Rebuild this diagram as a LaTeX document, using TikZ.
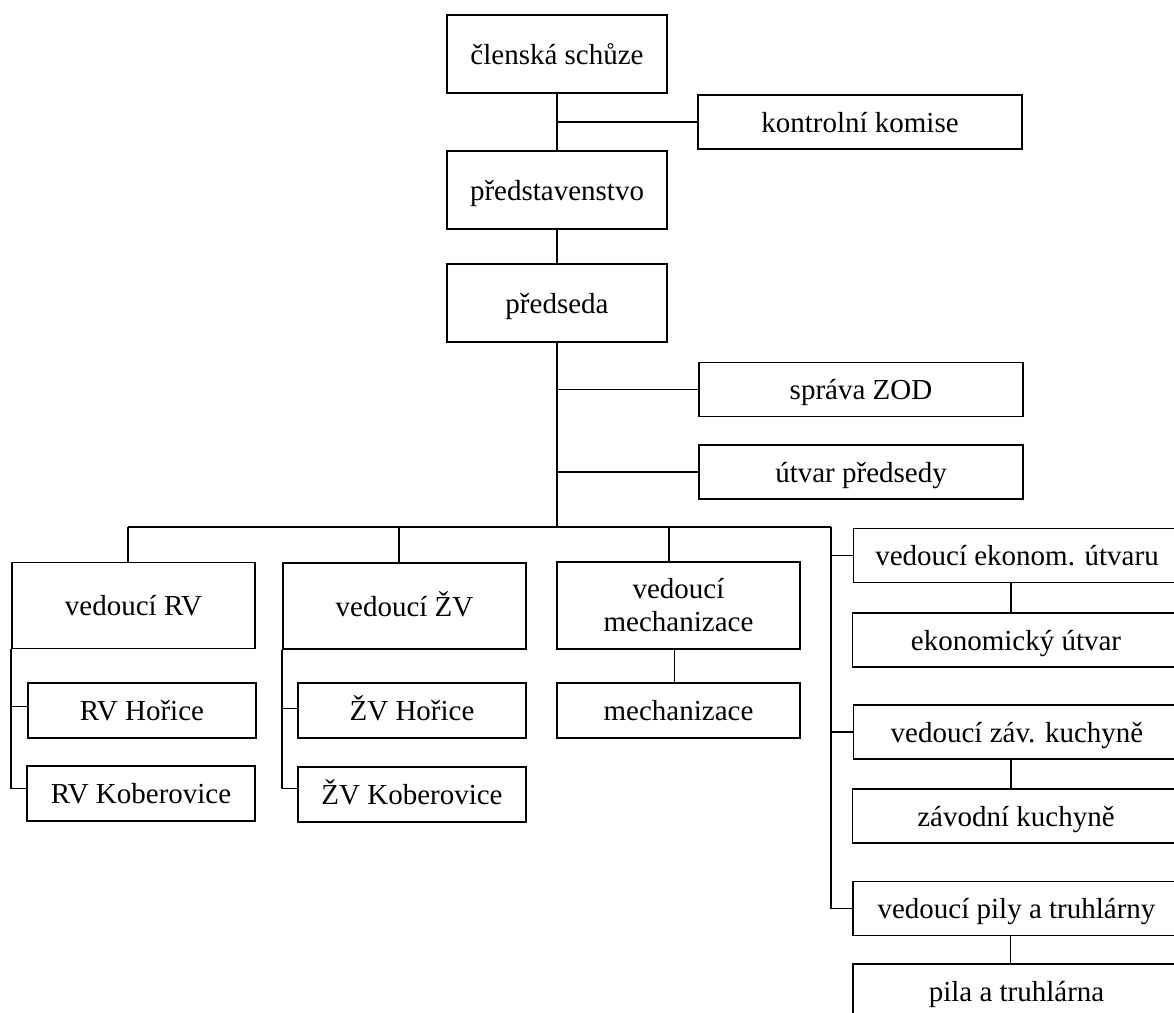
\documentclass[tikz,border=0pt]{standalone}
\usepackage{fontspec}
\setmainfont{Liberation Serif}
\usepackage{tikz}
\usetikzlibrary{positioning}

\begin{document}
\begin{tikzpicture}[
    x=1pt, y=-1pt,
    line width=1.6pt,
    box/.style={%
      draw,
      rectangle,
      inner sep=0pt,
      align=center,
      font=\fontsize{29}{33}\selectfont,
    },
    line/.style={box, text height=26pt, text depth=6pt},
    top/.style={line, minimum width=220pt, minimum height=78pt},
    side/.style={line, minimum width=324pt, minimum height=54pt},
    head/.style={line, minimum width=243pt, minimum height=86pt},
    unit/.style={line, minimum width=228pt, minimum height=55pt},
    rcol/.style={line, minimum width=327pt, minimum height=54pt},
  ]
    \useasboundingbox (0,0) rectangle (1174,1012);
    \clip (0,0) rectangle (1174,1012);

    \node [top] (cs) at (557,54) {členská schůze};
    \node [side] (kk) at (860,122) {kontrolní komise};
    \node [top] (pr) at (557,190) {představenstvo};
    \node [top] (pd) at (557,303) {předseda};
    \node [side] (zod) at (861,389.5) {správa ZOD};
    \node [side] (up) at (861,472) {útvar předsedy};

    \node [head] (vRV) at (133.5,605.5) {vedoucí RV};
    \node [unit] (rvH) at (142,710.5) {RV Hořice};
    \node [unit] (rvK) at (141,793.5) {RV Koberovice};
    \node [head] (vZV) at (404.5,606) {vedoucí ŽV};
    \node [unit] (zvH) at (412,710.5) {ŽV Hořice};
    \node [unit] (zvK) at (412,794.5) {ŽV Koberovice};
    \node [box, minimum width=243pt, minimum height=87pt] (vMe) at (678.5,605.5)
      {vedoucí\\mechanizace};
    \node [head, minimum height=55pt] (me) at (678.5,710.5) {mechanizace};

    \node [rcol] (vEk) at (1017,555.5) {vedoucí ekonom. útvaru};
    \node [rcol] (ek) at (1016,640) {ekonomický útvar};
    \node [rcol] (vKu) at (1017,732) {vedoucí záv. kuchyně};
    \node [rcol] (ku) at (1016,816) {závodní kuchyně};
    \node [rcol] (vPi) at (1016.5,908.5) {vedoucí pily a truhlárny};
    \node [rcol] (pi) at (1016.5,991) {pila a truhlárna};

    \coordinate (busL) at (128,527);
    \coordinate (busR) at (831,527);
    \coordinate (tZV) at (399,527);
    \coordinate (tMe) at (669,527);

    % upper part
    \draw (cs) -- (pr);
    \draw (kk.west) -- (kk.west -| cs);
    \draw (pr) -- (pd);
    \draw (pd) -- (pd |- busL);
    \draw (zod.west) -- (zod.west -| pd);
    \draw (up.west) -- (up.west -| pd);

    % bus
    \draw (busL) -- (busR);
    \draw (busL) -- (busL |- vRV.north);
    \draw (tZV) -- (tZV |- vZV.north);
    \draw (tMe) -- (tMe |- vMe.north);

    % left columns
    \draw (vRV.south west) |- ([yshift=5pt]rvK.west);
    \draw ([yshift=4pt]rvH.west) -- ([yshift=4pt]rvH.west -| vRV.west);
    \draw (vZV.south west) |- ([yshift=6pt]zvK.west);
    \draw ([yshift=2pt]zvH.west) -- ([yshift=2pt]zvH.west -| vZV.west);
    \draw ([xshift=-4pt]vMe.south) -- ([xshift=-4pt]me.north);

    % right column
    \draw (busR) |- (vPi.west);
    \draw (vEk.west -| busR) -- (vEk.west);
    \draw (vKu.west -| busR) -- (vKu.west);
    \draw ([xshift=-6pt]vEk.south) -- ([xshift=-5pt]ek.north);
    \draw ([xshift=-6pt]vKu.south) -- ([xshift=-5pt]ku.north);
    \draw ([xshift=-6pt]vPi.south) -- ([xshift=-6pt]pi.north);
\end{tikzpicture}
\end{document}
